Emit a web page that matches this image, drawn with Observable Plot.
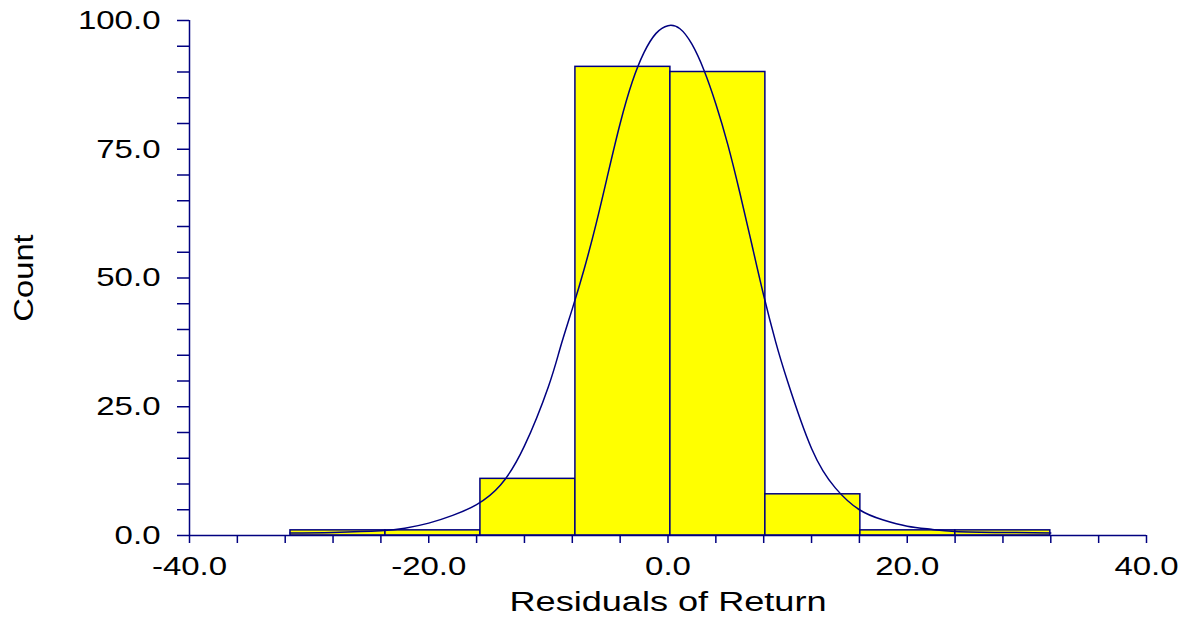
<!DOCTYPE html>
<html>
<head>
<meta charset="utf-8">
<script src="https://cdn.jsdelivr.net/npm/d3@7"></script>
<script src="https://cdn.jsdelivr.net/npm/@observablehq/plot@0.6"></script>
<style>
  html, body { margin: 0; padding: 0; background: #ffffff; }
  #chart { width: 1185px; height: 617px; }
</style>
</head>
<body>
<div id="chart"></div>
<script>
// Histogram bins (lower edge, upper edge) and counts
const binLo = [-31.56, -23.62, -15.68, -7.74, 0.20, 8.14, 16.08, 24.02];
const binHi = [-23.62, -15.68, -7.74, 0.20, 8.14, 16.08, 24.02, 31.96];
const counts = [1, 1, 11, 91, 90, 8, 1, 1];

// Fitted density curve (x, count)
const curveX = [-31.6, -28, -24, -22, -20, -18, -16, -14, -12, -10, -9, -8, -7, -6, -5, -4, -3, -2, -1, 0,
                1, 2, 3, 4, 5, 6, 7, 8, 9, 10, 12, 14, 16, 18, 20, 22, 24, 28, 32];
const curveY = [0.5, 0.6, 0.9, 1.4, 2.4, 3.9, 6.0, 9.8, 17.4, 28.9, 36.5, 44.0, 51.8, 60.6, 70.4, 80.0, 88.0, 93.8, 97.5, 99.0,
                98.4, 95.4, 90.4, 83.8, 75.9, 66.6, 56.6, 46.6, 37.6, 29.9, 16.9, 9.2, 5.0, 3.0, 1.8, 1.2, 0.8, 0.6, 0.5];

// Axis ticks and labels
const xTicks = d3.range(-40, 41, 4);
const xLabelTicks = [-40, -20, 0, 20, 40];
const yTicks = d3.range(0, 101, 5);
const yLabelTicks = [0, 25, 50, 75, 100];
const xTitle = "Residuals of Return";
const yTitle = "Count";

const bars = binLo.map((lo, i) => ({lo, hi: binHi[i], count: counts[i]}));
const curve = curveX.map((x, i) => ({x, y: curveY[i]}));

const navy = "#000080";

const plot = Plot.plot({
  width: 1185,
  height: 617,
  marginLeft: 189,
  marginRight: 39,
  marginTop: 20,
  marginBottom: 82,
  style: {fontFamily: "'Liberation Sans', Arial, sans-serif", fontSize: "26px", color: "black", background: "white"},
  x: {domain: [-40, 40]},
  y: {domain: [0, 100]},
  marks: [
    Plot.rectY(bars, {x1: "lo", x2: "hi", y1: 0, y2: "count", fill: "#ffff00", stroke: navy, strokeWidth: 1.5}),
    Plot.line(curve, {x: "x", y: "y", stroke: navy, strokeWidth: 1.5, curve: "natural"}),
    Plot.axisX({ticks: xTicks, tickSize: 8, tickPadding: 13, stroke: navy, strokeWidth: 1.5,
                tickFormat: d => xLabelTicks.includes(d) ? d.toFixed(1) : "", label: null, fill: "black"}),
    Plot.axisY({ticks: yTicks, tickSize: 12, tickPadding: 17, stroke: navy, strokeWidth: 1.5,
                tickFormat: d => yLabelTicks.includes(d) ? d.toFixed(1) : "", label: null, fill: "black"}),
    Plot.ruleX([-40], {stroke: navy, strokeWidth: 1.5}),
    Plot.ruleY([0], {stroke: navy, strokeWidth: 1.5}),
    Plot.text([xTitle], {frameAnchor: "bottom", dy: 67, fontSize: 28, fill: "black", lineAnchor: "middle"}),
    Plot.text([yTitle], {frameAnchor: "left", dx: -165, rotate: -90, fontSize: 28, fill: "black",
                         lineAnchor: "middle", textAnchor: "middle"})
  ]
});

// The original font is horizontally stretched; widen the glyphs along the text direction
d3.select(plot).selectAll("text").each(function() {
  const el = d3.select(this);
  const txt = this.textContent;
  const s = txt === yTitle ? 1.17 : (txt === xTitle ? 1.29 : 1.27);
  const t = el.attr("transform") || "";
  el.attr("transform", (t + ` scale(${s},1)`).trim());
});

document.getElementById("chart").appendChild(plot);
</script>
</body>
</html>
